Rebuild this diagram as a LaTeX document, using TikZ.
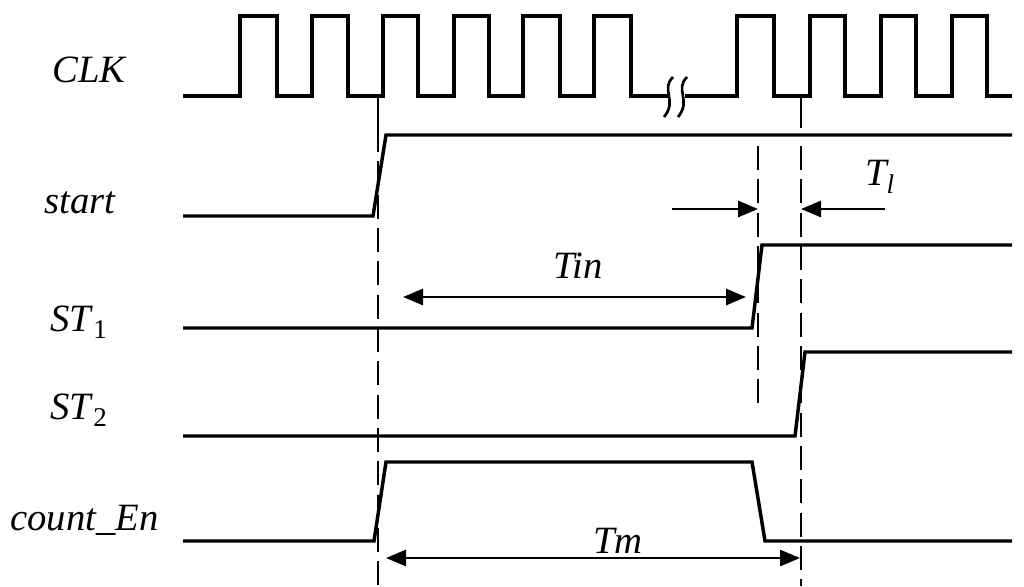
\documentclass[tikz,border=0pt]{standalone}
\usepackage{fontspec}
\setmainfont{Liberation Serif}
\usetikzlibrary{arrows.meta}
\begin{document}
\begin{tikzpicture}[x=0.75pt,y=-0.75pt,
  sig/.style={line width=2.6pt,line join=miter},
  guide/.style={line width=1.9pt,dash pattern=on 18pt off 7pt},
  tip/.style={-{Triangle[length=15pt,width=12pt]}},
  dim/.style={line width=2.2pt,{Triangle[length=15pt,width=12pt]}-{Triangle[length=15pt,width=12pt]}},
  lab/.style={font=\fontsize{29}{31}\selectfont\itshape,inner sep=0pt}]
\useasboundingbox (0,0) rectangle (1024,586);
% labels
\node[lab,anchor=west] (lclk) at (52,70) {CLK};
\node[lab,anchor=west] (lst) at (44,203) {start};
\node[lab,anchor=west] (lst1) at (50,322) {ST\textup{\textsubscript{1}}};
\node[lab,anchor=west] (lst2) at (50,410) {ST\textup{\textsubscript{2}}};
\node[lab,anchor=west] (lce) at (10,520) {count\_En};
% clock
\draw[sig] (183,96) -- (240,96)
 \foreach \r/\f in {240/277,312/348,383/418,454/489,523/560,594/631} { -- (\r,96) -- (\r,16) -- (\f,16) -- (\f,96) } -- (668,96);
\draw[sig] (685,96) -- (737,96)
 \foreach \r/\f in {737/774,810/845,881/916,952/987} { -- (\r,96) -- (\r,16) -- (\f,16) -- (\f,96) } -- (1012,96);
\draw[line width=2pt] (673,77) .. controls (660,90) and (678,100) .. (664,117);
\draw[line width=2pt] (687,77) .. controls (674,90) and (692,100) .. (678,117);
% dashed guides
\draw[line width=1.9pt] (378,96) -- (378,128);
\draw[line width=1.9pt] (801,96) -- (801,128);
\draw[guide] (378,128) -- (378,586);
\draw[guide] (801,146) -- (801,586);
\draw[guide] (758,146) -- (758,412);
% start
\draw[sig] (183,216) -- (373,216) -- (386,135) -- (1012,135);
% ST1
\draw[sig] (183,328) -- (752,328) -- (762,245) -- (1012,245);
% ST2
\draw[sig] (183,436) -- (795,436) -- (805,352) -- (1012,352);
% count_En
\draw[sig] (183,541) -- (374,541) -- (386,462) -- (752,462) -- (765,541) -- (1012,541);
% dimensions
\coordinate (tl1) at (672,209); \coordinate (tl2) at (758,209);
\coordinate (tl3) at (885,209); \coordinate (tl4) at (801,209);
\draw[line width=2.2pt,tip] (tl1) -- (tl2);
\draw[line width=2.2pt,tip] (tl3) -- (tl4);
\node[lab] (tl) at (880,177) {T\textsubscript{l}};
\coordinate (ti1) at (403,297); \coordinate (ti2) at (746,297);
\draw[dim] (ti1) -- (ti2);
\node[lab] (tin) at (578,266) {Tin};
\coordinate (tm1) at (386,558); \coordinate (tm2) at (800,558);
\draw[dim] (tm1) -- (tm2);
\node[lab] (tm) at (618,541) {Tm};
\end{tikzpicture}
\end{document}
